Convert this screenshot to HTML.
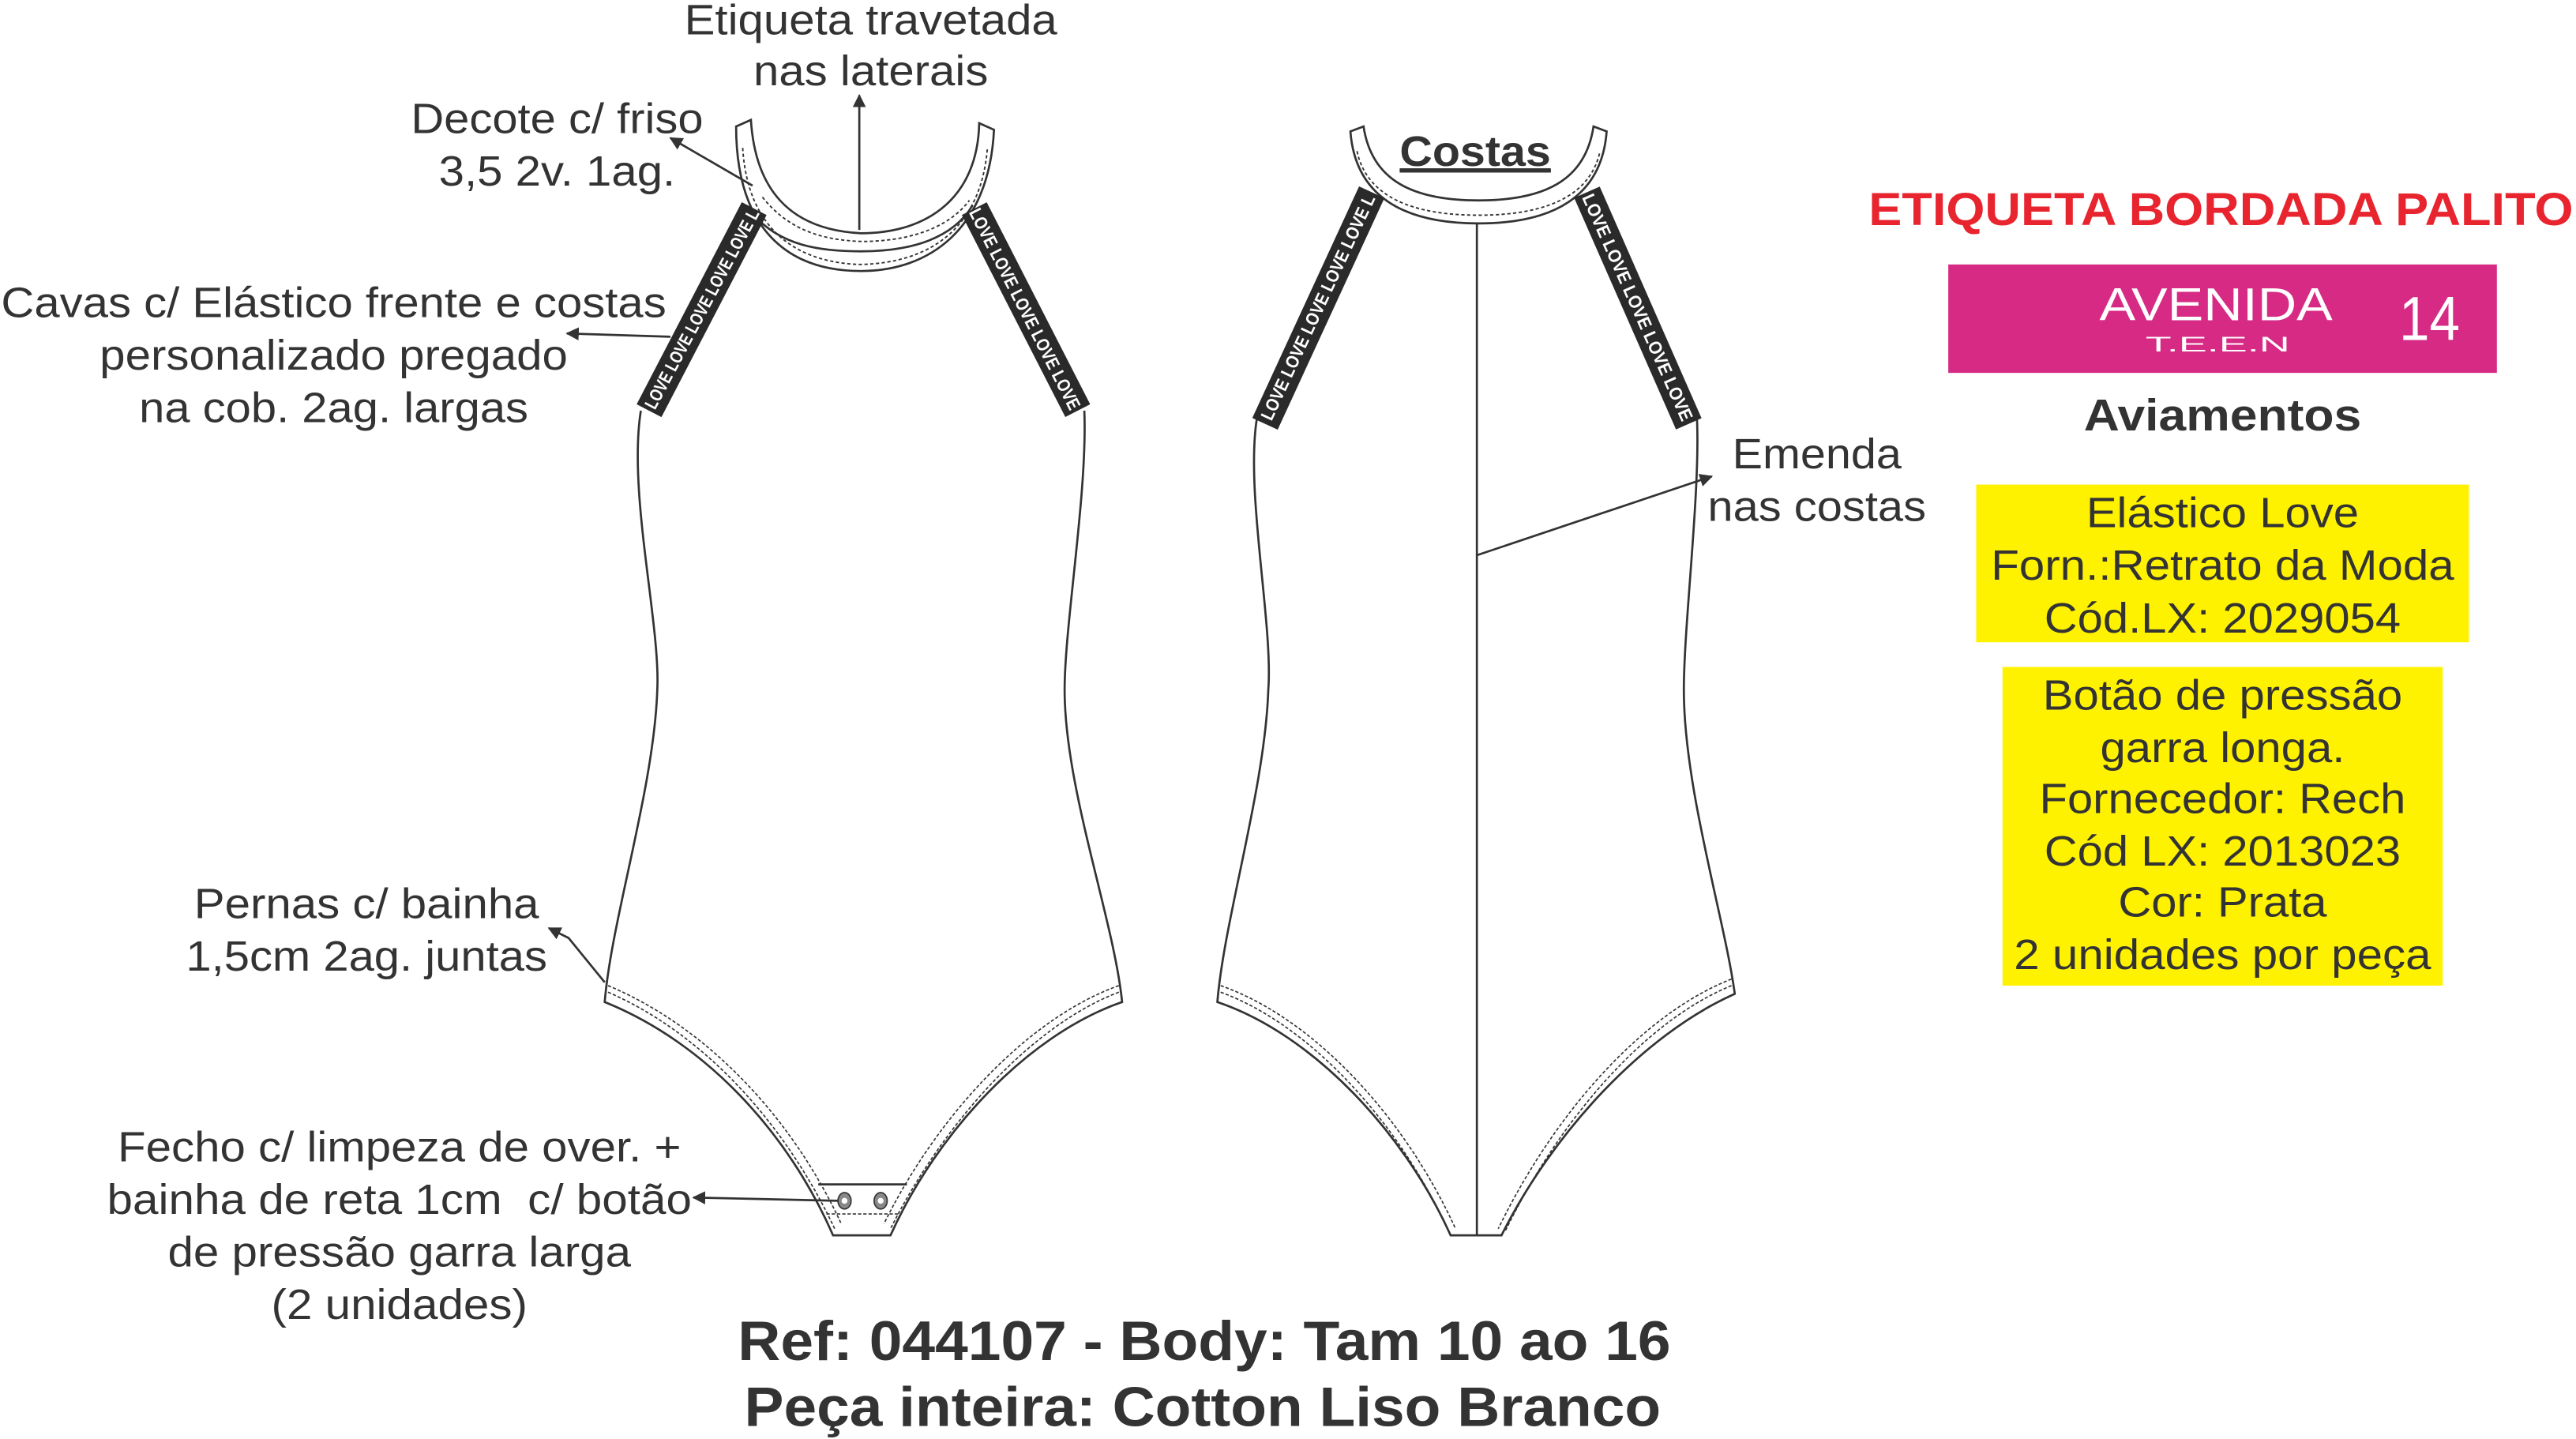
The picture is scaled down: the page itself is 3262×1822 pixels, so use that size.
<!DOCTYPE html>
<html><head><meta charset="utf-8"><style>
html,body{margin:0;padding:0;background:#fff;}
svg{display:block;font-family:"Liberation Sans",Arial,sans-serif;}
text{font-family:"Liberation Sans",Arial,sans-serif;fill:#333;}
</style></head><body>
<svg width="3262" height="1822" viewBox="0 0 1568 876" xmlns="http://www.w3.org/2000/svg" font-family="Liberation Sans, Arial, sans-serif">
<defs>
<marker id="ah" viewBox="0 0 10 10" refX="9" refY="5" markerWidth="8" markerHeight="8" orient="auto-start-reverse" markerUnits="userSpaceOnUse"><path d="M0,0 L10,5 L0,10 z" fill="#333"/></marker>
</defs>
<g fill="none" stroke="#333" stroke-width="1.3">
<!-- FRONT -->
<path d="M390,250 C382,300 402,380 400,420 C398,480 372,560 368,610 C430,635 480,690 507,752 L542,752 C570,690 625,630 683,610 C678,560 648,480 648,420 C648,380 662,300 660,250" fill="#fff"/>
<path d="M448,77 L457,73 C460,120 485,140 524,142 C565,142 595,120 596,75 L605,79 C602,140 565,165 524,165 C480,165 448,140 448,77 Z" fill="#fff"/>
<path d="M458,130 C475,150 500,153 524,153 C555,153 580,145 592,125"/>
<path d="M452,90 C455,140 485,160 524,161 C565,160 597,140 601,90" stroke-dasharray="2,1.5" stroke-width="0.9"/>
<path d="M464,120 C480,140 500,146 524,147 C555,147 578,138 590,122" stroke-dasharray="2,1.5" stroke-width="0.9"/>
<path d="M370,600 C430,625 482,680 512,745" stroke-dasharray="2,1.2" stroke-width="0.8"/>
<path d="M370,604 C428,629 478,684 508,748" stroke-dasharray="2,1.2" stroke-width="0.8"/>
<path d="M681,600 C625,620 570,680 538,745" stroke-dasharray="2,1.2" stroke-width="0.8"/>
<path d="M681,604 C628,624 574,684 542,748" stroke-dasharray="2,1.2" stroke-width="0.8"/>
<line x1="498" y1="721" x2="552" y2="721"/>
<line x1="503" y1="739" x2="547" y2="739" stroke-dasharray="2,1.2" stroke-width="0.8"/>
<!-- BACK -->
<path d="M765,255 C758,300 775,380 772,420 C770,480 745,560 741,610 C800,630 855,690 883,752 L914,752 C945,690 1000,630 1056,605 C1050,560 1025,480 1025,420 C1025,380 1035,300 1033,255" fill="#fff"/>
<path d="M822,80 L830,77 C835,110 860,122 900,122 C940,122 965,110 970,77 L978,80 C975,120 945,136 900,136 C855,136 825,120 822,80 Z" fill="#fff"/>
<path d="M826,92 C832,120 860,131 900,131 C940,131 968,120 974,92" stroke-dasharray="2,1.5" stroke-width="0.9"/>
<line x1="899" y1="136" x2="899" y2="752"/>
<path d="M743,600 C800,620 855,680 886,748" stroke-dasharray="2,1.2" stroke-width="0.8"/>
<path d="M743,604 C798,624 852,684 882,750" stroke-dasharray="2,1.2" stroke-width="0.8"/>
<path d="M1054,596 C998,618 945,680 912,748" stroke-dasharray="2,1.2" stroke-width="0.8"/>
<path d="M1054,600 C1000,622 948,684 916,750" stroke-dasharray="2,1.2" stroke-width="0.8"/>
</g>
<!-- straps -->
<g stroke="#2a2a2a" stroke-width="17" stroke-linecap="butt">
<line x1="459" y1="127" x2="395" y2="250"/>
<line x1="593" y1="127" x2="656" y2="250"/>
<line x1="835" y1="117" x2="770" y2="258"/>
<line x1="966" y1="117" x2="1028" y2="258"/>
</g>
<g font-size="11" font-weight="bold" text-anchor="middle">
<text x="0" y="4" transform="translate(427,188) rotate(-62)" style="fill:#fff" textLength="136" lengthAdjust="spacingAndGlyphs">LOVE LOVE LOVE LOVE LOVE L</text>
<text x="0" y="4" transform="translate(624,188) rotate(63)" style="fill:#fff" textLength="136" lengthAdjust="spacingAndGlyphs">LOVE LOVE LOVE LOVE LOVE</text>
<text x="0" y="4" transform="translate(802,187) rotate(-65)" style="fill:#fff" textLength="150" lengthAdjust="spacingAndGlyphs">LOVE LOVE LOVE LOVE LOVE L</text>
<text x="0" y="4" transform="translate(997,187) rotate(66)" style="fill:#fff" textLength="150" lengthAdjust="spacingAndGlyphs">LOVE LOVE LOVE LOVE LOVE</text>
</g>
<!-- snaps -->
<g fill="#888" stroke="#333" stroke-width="0.8"><ellipse cx="514" cy="731" rx="4" ry="5"/><ellipse cx="536" cy="731" rx="4" ry="5"/></g>
<g fill="#fff"><circle cx="514" cy="731" r="1.8"/><circle cx="536" cy="731" r="1.8"/></g>
<!-- arrows -->
<g stroke="#333" stroke-width="1.3" fill="none">
<line x1="523" y1="140" x2="523" y2="58" marker-end="url(#ah)"/>
<line x1="458" y1="113" x2="408" y2="84" marker-end="url(#ah)"/>
<line x1="408" y1="205" x2="345" y2="203" marker-end="url(#ah)"/>
<polyline points="368,598 346,571 334,565" marker-end="url(#ah)"/>
<line x1="510" y1="731" x2="422" y2="729" marker-end="url(#ah)"/>
<line x1="899" y1="338" x2="1042" y2="290" marker-end="url(#ah)"/>
</g>
<!-- labels -->
<g font-size="26" text-anchor="middle" lengthAdjust="spacingAndGlyphs">
<text x="530" y="21" textLength="227" lengthAdjust="spacingAndGlyphs">Etiqueta travetada</text>
<text x="530" y="52" textLength="143" lengthAdjust="spacingAndGlyphs">nas laterais</text>
<text x="339" y="81" textLength="178" lengthAdjust="spacingAndGlyphs">Decote c/ friso</text>
<text x="339" y="113" textLength="144" lengthAdjust="spacingAndGlyphs">3,5 2v. 1ag.</text>
<text x="203" y="193" textLength="405" lengthAdjust="spacingAndGlyphs">Cavas c/ Elástico frente e costas</text>
<text x="203" y="225" textLength="285" lengthAdjust="spacingAndGlyphs">personalizado pregado</text>
<text x="203" y="257" textLength="237" lengthAdjust="spacingAndGlyphs">na cob. 2ag. largas</text>
<text x="223" y="559" textLength="210" lengthAdjust="spacingAndGlyphs">Pernas c/ bainha</text>
<text x="223" y="591" textLength="220" lengthAdjust="spacingAndGlyphs">1,5cm 2ag. juntas</text>
<text x="243" y="707" textLength="343" lengthAdjust="spacingAndGlyphs">Fecho c/ limpeza de over. +</text>
<text x="243" y="739" textLength="356" lengthAdjust="spacingAndGlyphs">bainha de reta 1cm&#160; c/ botão</text>
<text x="243" y="771" textLength="282" lengthAdjust="spacingAndGlyphs">de pressão garra larga</text>
<text x="243" y="803" textLength="156" lengthAdjust="spacingAndGlyphs">(2 unidades)</text>
<text x="1106" y="285" textLength="103" lengthAdjust="spacingAndGlyphs">Emenda</text>
<text x="1106" y="317" textLength="133" lengthAdjust="spacingAndGlyphs">nas costas</text>
</g>
<text x="898" y="101" font-size="26" font-weight="bold" text-anchor="middle" text-decoration="underline" textLength="92" lengthAdjust="spacingAndGlyphs">Costas</text>
<line x1="852" y1="104" x2="944" y2="104" stroke="#333" stroke-width="2"/>
<text x="1352" y="137" font-size="28" font-weight="bold" text-anchor="middle" style="fill:#e8242f" textLength="429" lengthAdjust="spacingAndGlyphs">ETIQUETA BORDADA PALITO</text>
<rect x="1186" y="161" width="334" height="66" fill="#d62a85"/>
<text x="1349" y="195" font-size="28" text-anchor="middle" style="fill:#fff" textLength="142" lengthAdjust="spacingAndGlyphs">AVENIDA</text>
<text x="1350" y="214" font-size="13" text-anchor="middle" style="fill:#fff" textLength="88" lengthAdjust="spacingAndGlyphs">T.E.E.N</text>
<text x="1479" y="207" font-size="38" text-anchor="middle" style="fill:#fff" textLength="37" lengthAdjust="spacingAndGlyphs">14</text>
<text x="1353" y="262" font-size="27" font-weight="bold" text-anchor="middle" textLength="169" lengthAdjust="spacingAndGlyphs">Aviamentos</text>
<rect x="1203" y="295" width="300" height="96" fill="#fff200"/>
<rect x="1219" y="406" width="268" height="194" fill="#fff200"/>
<g font-size="26" text-anchor="middle">
<text x="1353" y="321" textLength="166" lengthAdjust="spacingAndGlyphs">Elástico Love</text>
<text x="1353" y="353" textLength="282" lengthAdjust="spacingAndGlyphs">Forn.:Retrato da Moda</text>
<text x="1353" y="385" textLength="217" lengthAdjust="spacingAndGlyphs">Cód.LX: 2029054</text>
<text x="1353" y="432" textLength="219" lengthAdjust="spacingAndGlyphs">Botão de pressão</text>
<text x="1353" y="464" textLength="149" lengthAdjust="spacingAndGlyphs">garra longa.</text>
<text x="1353" y="495" textLength="223" lengthAdjust="spacingAndGlyphs">Fornecedor: Rech</text>
<text x="1353" y="527" textLength="217" lengthAdjust="spacingAndGlyphs">Cód LX: 2013023</text>
<text x="1353" y="558" textLength="127" lengthAdjust="spacingAndGlyphs">Cor: Prata</text>
<text x="1353" y="590" textLength="254" lengthAdjust="spacingAndGlyphs">2 unidades por peça</text>
</g>
<text x="733" y="828" font-size="34" font-weight="bold" text-anchor="middle" textLength="568" lengthAdjust="spacingAndGlyphs">Ref: 044107 - Body: Tam 10 ao 16</text>
<text x="732" y="868" font-size="34" font-weight="bold" text-anchor="middle" textLength="558" lengthAdjust="spacingAndGlyphs">Peça inteira: Cotton Liso Branco</text>
</svg>
</body></html>
